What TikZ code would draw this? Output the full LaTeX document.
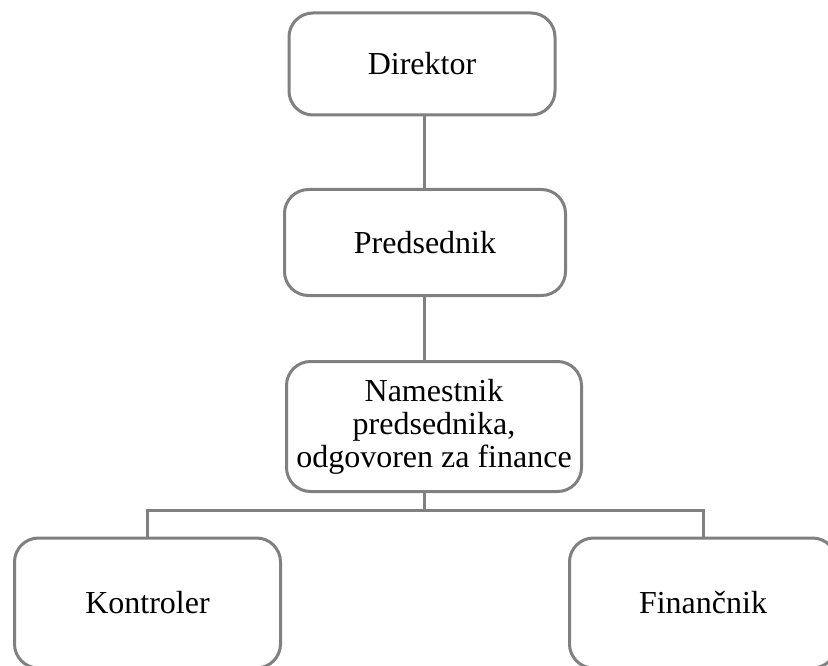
\documentclass[tikz,border=0pt]{standalone}
\usepackage{fontspec}
\setmainfont{Liberation Serif}
\begin{document}
\begin{tikzpicture}[x=1pt,y=-1pt,
  orgbox/.style={draw=boxgray, line width=3pt, rounded corners=24pt, fill=white,
    align=center, inner sep=0pt, font=\fontsize{32}{33}\selectfont},
  link/.style={draw=boxgray, line width=3pt}]
\definecolor{boxgray}{RGB}{128,128,128}
\useasboundingbox (0,0) rectangle (828,666);
\clip (0,0) rectangle (828,666);
% boxes of the chart
\node[orgbox, minimum width=266pt, minimum height=102pt] (dir) at (422,64) {Direktor};
\node[orgbox, minimum width=281pt, minimum height=106pt] (pred) at (425,242.5) {Predsednik};
\node[orgbox, minimum width=295pt, minimum height=130pt] (nam) at (434,426.5)
  {Namestnik\\predsednika,\\odgovoren za finance};
\node[orgbox, minimum width=266pt, minimum height=130pt] (kon) at (147.5,603) {Kontroler};
\node[orgbox, minimum width=267pt, minimum height=130pt] (fin) at (703,603) {Finančnik};
% vertical spine and branch rail
\coordinate (spine) at (424,0);
\coordinate (rail) at (0,510);
\draw[link] (dir.south -| spine) -- (pred.north -| spine);
\draw[link] (pred.south -| spine) -- (nam.north -| spine);
\draw[link] (nam.south -| spine) -- (rail -| spine);
\draw[link] (kon.north) -- (kon.north |- rail) -- (fin.north |- rail) -- (fin.north);
\end{tikzpicture}
\end{document}
